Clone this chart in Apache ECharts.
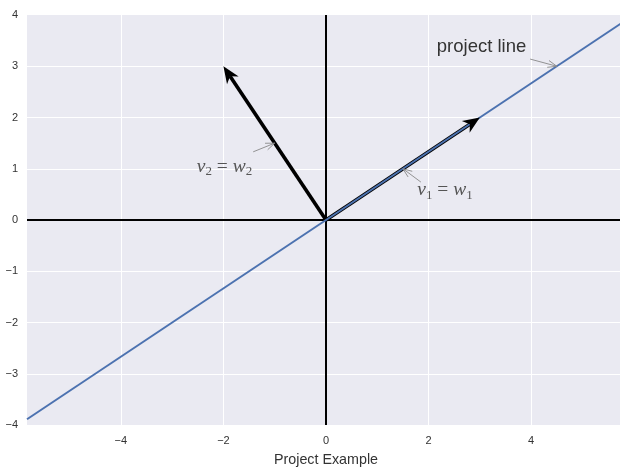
<!DOCTYPE html>
<html><head><meta charset="utf-8">
<script src="https://cdn.jsdelivr.net/npm/echarts@6/dist/echarts.min.js"></script>
<style>html,body{margin:0;padding:0;background:#fff}#c{width:620px;height:468px}</style>
</head><body><div id="c"></div>
<script>
// ---- data ----
const xRange = [-5.83, 5.83];
const yRange = [-4, 4];
const xTicks = [-4, -2, 0, 2, 4];
const yTicks = [-4, -3, -2, -1, 0, 1, 2, 3, 4];
const vectors = [[3, 2], [-2, 3]];           // v1, v2
const projLine = [[-5.83, -3.887], [5.83, 3.887]];
const annoLabels = ['project line', '{i|v}{s|2}{e| = }{i|w}{s|2}', '{i|v}{s|1}{e| = }{i|w}{s|1}'];
const annoIsMath = [false, true, true];
const annoTextPos = [[2.16, 3.37], [-2.52, 1.04], [1.78, 0.58]];
const annoFrom = [[3.98, 3.14], [-1.42, 1.33], [1.85, 0.74]];
const annoTo = [[4.5, 3], [-1, 1.5], [1.5, 1]];
const xName = 'Project Example';

const chart = echarts.init(document.getElementById('c'));
const minus = v => String(v).replace('-', '\u2212');

function unit(p0, p1) {
  const dx = p1[0] - p0[0], dy = p1[1] - p0[1];
  const L = Math.hypot(dx, dy);
  return [dx / L, dy / L];
}

function shaftItem(params, api) {
  const p0 = api.coord([0, 0]);
  const p1 = api.coord([api.value(0), api.value(1)]);
  const [ux, uy] = unit(p0, p1);
  const e = [p1[0] - ux * 12, p1[1] - uy * 12];
  return { type: 'line', shape: { x1: p0[0], y1: p0[1], x2: e[0], y2: e[1] },
    style: { stroke: '#000', lineWidth: 3.6 } };
}
function headItem(params, api) {
  const p0 = api.coord([0, 0]);
  const p1 = api.coord([api.value(0), api.value(1)]);
  const [ux, uy] = unit(p0, p1);
  const nx = -uy, ny = ux;
  const hl = 17, hw = 7, notch = 5;
  const b = [p1[0] - ux * hl, p1[1] - uy * hl];
  const m = [p1[0] - ux * (hl - notch), p1[1] - uy * (hl - notch)];
  return { type: 'polygon', shape: { points: [
      p1, [b[0] + nx * hw, b[1] + ny * hw], m, [b[0] - nx * hw, b[1] - ny * hw]] },
    style: { fill: '#000' } };
}
function annoItem(params, api) {
  const i = params.dataIndex;
  const tp = api.coord(annoTextPos[i]);
  const a0 = api.coord(annoFrom[i]);
  const a1 = api.coord(annoTo[i]);
  const [ux, uy] = unit(a0, a1);
  const hl = 9, hw = 3.5;
  const nx = -uy, ny = ux;
  const b = [a1[0] - ux * hl, a1[1] - uy * hl];
  const math = annoIsMath[i];
  const textStyle = math ? {
      text: annoLabels[i], x: tp[0], y: tp[1], align: 'left', verticalAlign: 'middle',
      fill: '#555',
      rich: {
        i: { fontFamily: 'Liberation Serif', fontStyle: 'italic', fontSize: 19.5, fill: '#555', lineHeight: 22 },
        s: { fontFamily: 'Liberation Serif', fontSize: 13, fill: '#555', lineHeight: 22, padding: [10, 0, 0, 0] },
        e: { fontFamily: 'Liberation Serif', fontSize: 19.5, fill: '#555', lineHeight: 22 }
      }
    } : {
      text: annoLabels[i], x: tp[0], y: tp[1], align: 'left', verticalAlign: 'middle',
      fontFamily: 'Liberation Sans', fontSize: 18.5, fill: '#333'
    };
  return { type: 'group', children: [
    { type: 'text', style: textStyle },
    { type: 'line', shape: { x1: a0[0], y1: a0[1], x2: a1[0], y2: a1[1] },
      style: { stroke: '#888', lineWidth: 0.9 } },
    { type: 'polyline', shape: { points: [[b[0] + nx * hw, b[1] + ny * hw], a1, [b[0] - nx * hw, b[1] - ny * hw]] },
      style: { stroke: '#888', lineWidth: 0.9, fill: 'none' } }
  ] };
}

chart.setOption({
  animation: false,
  backgroundColor: '#fff',
  grid: { left: 27, top: 15, width: 598, height: 410, show: true, backgroundColor: '#EAEAF2', borderWidth: 0,
    outerBoundsMode: 'none', containLabel: false },
  xAxis: {
    type: 'value', min: xRange[0], max: xRange[1], splitNumber: 6,
    name: xName, nameLocation: 'middle', nameGap: 28,
    nameTextStyle: { fontFamily: 'Liberation Sans', fontSize: 14.3, color: '#333' },
    axisLine: { show: false }, axisTick: { show: false },
    axisLabel: { margin: 10, fontFamily: 'Liberation Sans', fontSize: 11, color: '#333',
      showMinLabel: false, showMaxLabel: false,
      formatter: v => xTicks.includes(Math.round(v * 1000) / 1000) ? minus(v) : '' },
    splitLine: { show: true, showMinLine: false, showMaxLine: false, lineStyle: { color: '#fff', width: 1 } }
  },
  yAxis: {
    type: 'value', min: yRange[0], max: yRange[1], interval: 1,
    axisLine: { show: false }, axisTick: { show: false },
    axisLabel: { margin: 9, fontFamily: 'Liberation Sans', fontSize: 11, color: '#333',
      formatter: v => yTicks.includes(v) ? minus(v) : '' },
    splitLine: { show: true, showMinLine: false, showMaxLine: false, lineStyle: { color: '#fff', width: 1 } }
  },
  series: [
    { type: 'line', z: 2, symbol: 'none', data: [[xRange[0], 0], [xRange[1], 0]],
      lineStyle: { color: '#000', width: 2 } },
    { type: 'line', z: 2, symbol: 'none', data: [[0, yRange[0]], [0, yRange[1]]],
      lineStyle: { color: '#000', width: 2 } },
    { type: 'custom', z: 3, renderItem: shaftItem, data: vectors },
    { type: 'line', z: 4, symbol: 'none', data: projLine, lineStyle: { color: '#4C72B0', width: 2 } },
    { type: 'custom', z: 5, renderItem: headItem, data: vectors },
    { type: 'custom', z: 6, renderItem: annoItem, data: annoLabels.map((t, i) => [annoTo[i][0], annoTo[i][1]]) }
  ]
});
</script>
</body></html>
